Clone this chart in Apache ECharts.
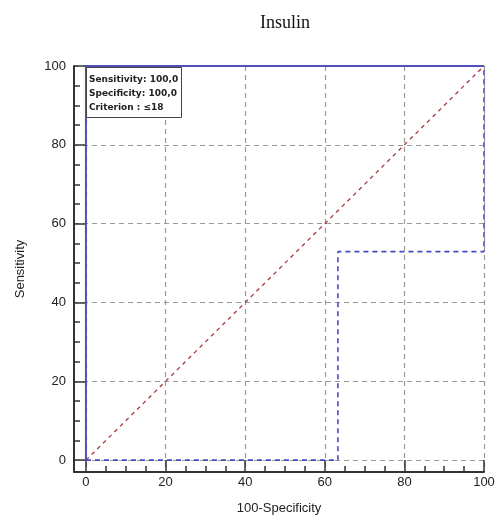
<!DOCTYPE html>
<html><head><meta charset="utf-8">
<script src="https://cdn.jsdelivr.net/npm/echarts@6/dist/echarts.min.js"></script>
<style>html,body{margin:0;padding:0;background:#fff}#c{width:500px;height:520px}</style>
</head><body><div id="c"></div>
<script>
var title = 'Insulin';
var xName = '100-Specificity';
var yName = 'Sensitivity';
var majorTicks = [0, 20, 40, 60, 80, 100];
var minorTicks = [0,5,10,15,20,25,30,35,40,45,50,55,60,65,70,75,80,85,90,95,100];
var rocX = [0, 0, 100];
var rocY = [0, 100, 100];
var boundX = [0, 63.3, 63.3, 100, 100];
var boundY = [0, 0, 52.9, 52.9, 100];
var diagX = [0, 100];
var diagY = [0, 100];
var infoLines = ['Sensitivity: 100,0', 'Specificity: 100,0', 'Criterion : \u226418'];

function pairs(xs, ys){ return xs.map(function(x,i){ return [x, ys[i]]; }); }

var AMIN = -3, AMAX = 100;
var labelStyle = {fontFamily:'Liberation Sans', fontSize:13, color:'#222'};
var grid = {left:74, right:16, top:66, bottom:43};

var chart = echarts.init(document.getElementById('c'), null, {renderer:'canvas'});
chart.setOption({
  animation:false,
  backgroundColor:'#fff',
  title:[{
    text:title, left:280, top:9, textAlign:'center',
    textStyle:{fontFamily:'Liberation Serif', fontSize:18, fontWeight:'normal', color:'#111'}
  },{
    text:infoLines.join('\n'), left:86, top:67,
    backgroundColor:'#fff', borderColor:'#444', borderWidth:1,
    padding:[6,4,3,3],
    textStyle:{fontFamily:'DejaVu Sans', fontSize:9, fontWeight:'bold', color:'#222', lineHeight:14}
  }],
  grid:grid,
  xAxis:[{
    type:'value', min:AMIN, max:AMAX, position:'bottom',
    name:xName, nameLocation:'middle', nameGap:30,
    nameTextStyle:labelStyle,
    axisLine:{show:true, onZero:false, lineStyle:{color:'#333', width:2}},
    axisTick:{show:true, inside:true, length:6, customValues:minorTicks, lineStyle:{color:'#333', width:1.5}},
    axisLabel:Object.assign({customValues:majorTicks, margin:4}, labelStyle),
    splitLine:{show:false}
  },{
    type:'value', min:AMIN, max:AMAX, position:'bottom', offset:0,
    axisLine:{show:false, onZero:false},
    axisTick:{show:true, inside:true, length:12, customValues:majorTicks, lineStyle:{color:'#333', width:1.5}},
    axisLabel:{show:false},
    splitLine:{show:true, lineStyle:{color:'#999', type:[5,4], width:1.2}}
  }],
  yAxis:[{
    type:'value', min:AMIN, max:AMAX, position:'left',
    name:yName, nameLocation:'middle', nameGap:47,
    nameTextStyle:labelStyle,
    axisLine:{show:true, onZero:false, lineStyle:{color:'#333', width:2}},
    axisTick:{show:true, inside:true, length:6, customValues:minorTicks, lineStyle:{color:'#333', width:1.5}},
    axisLabel:Object.assign({customValues:majorTicks, margin:8}, labelStyle),
    splitLine:{show:false}
  },{
    type:'value', min:AMIN, max:AMAX, position:'left', offset:0,
    axisLine:{show:false, onZero:false},
    axisTick:{show:true, inside:true, length:12, customValues:majorTicks, lineStyle:{color:'#333', width:1.5}},
    axisLabel:{show:false},
    splitLine:{show:true, lineStyle:{color:'#999', type:[5,4], width:1.2}}
  }],
  series:[{
    type:'line', data:pairs(diagX, diagY), symbol:'none', z:3,
    lineStyle:{color:'#a83a3a', width:1.3, type:[4,4]}
  },{
    type:'line', data:pairs(boundX, boundY), symbol:'none', z:4,
    lineStyle:{color:'#4a4ac0', width:1.6, type:[5,4]}
  },{
    type:'line', data:pairs(rocX, rocY), symbol:'none', z:5,
    lineStyle:{color:'#5050b8', width:2}
  }]
});
</script></body></html>
